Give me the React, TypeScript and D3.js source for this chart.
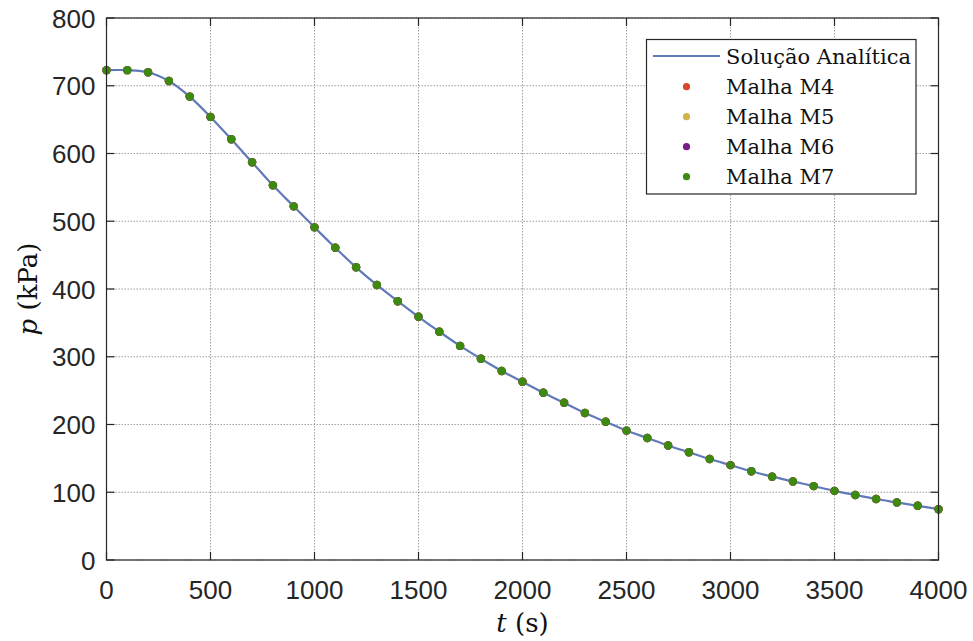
import React from 'react';
import * as d3 from 'd3';

// tempo (s) e pressão (kPa)
const tempos = [
  0, 100, 200, 300, 400, 500, 600, 700, 800, 900, 1000,
  1100, 1200, 1300, 1400, 1500, 1600, 1700, 1800, 1900, 2000,
  2100, 2200, 2300, 2400, 2500, 2600, 2700, 2800, 2900, 3000,
  3100, 3200, 3300, 3400, 3500, 3600, 3700, 3800, 3900, 4000,
];
const pressaoAnalitica = [
  723, 723, 720, 707, 684, 654, 621, 587, 553, 522, 491,
  461, 432, 406, 382, 359, 337, 316, 297, 279, 263,
  247, 232, 217, 204, 191, 180, 169, 159, 149, 140,
  131, 123, 116, 109, 102, 96, 90, 85, 80, 75,
];
const malhaM4 = pressaoAnalitica.slice();
const malhaM5 = pressaoAnalitica.slice();
const malhaM6 = pressaoAnalitica.slice();
const malhaM7 = pressaoAnalitica.slice();

const xTicks = [0, 500, 1000, 1500, 2000, 2500, 3000, 3500, 4000];
const yTicks = [0, 100, 200, 300, 400, 500, 600, 700, 800];

const series = [
  { name: 'Malha M4', values: malhaM4, color: '#d9472b' },
  { name: 'Malha M5', values: malhaM5, color: '#cfb44a' },
  { name: 'Malha M6', values: malhaM6, color: '#7b1a8a' },
  { name: 'Malha M7', values: malhaM7, color: '#3d8a10' },
];
const lineColor = '#6079b8';

const W = 973, H = 641;
const margin = { top: 18, right: 34.5, bottom: 81, left: 106.5 };

export default function App() {
  const iw = W - margin.left - margin.right;
  const ih = H - margin.top - margin.bottom;
  const x = d3.scaleLinear().domain([0, 4000]).range([0, iw]);
  const y = d3.scaleLinear().domain([0, 800]).range([ih, 0]);

  const line = d3.line<number>()
    .x((_, i) => x(tempos[i]))
    .y(d => y(d))
    .curve(d3.curveCatmullRom);

  const axisColor = '#262626';
  const tickFont = '"Liberation Sans", Arial, sans-serif';
  const serif = '"DejaVu Serif", serif';
  const tl = 8;

  const legend = { x: 646.5 - margin.left, y: 39.5 - margin.top, w: 269.5, h: 154.5 };

  return (
    <svg width={W} height={H} style={{ position: 'absolute', left: 0, top: 0, background: '#fff' }}>
      <g transform={`translate(${margin.left},${margin.top})`}>
        {/* grade */}
        {xTicks.map(t => (
          <line key={'gx' + t} x1={x(t)} x2={x(t)} y1={0} y2={ih}
            stroke="#6e6e6e" strokeWidth={1} strokeDasharray="1.5 1.5" opacity={0.65} />
        ))}
        {yTicks.map(t => (
          <line key={'gy' + t} x1={0} x2={iw} y1={y(t)} y2={y(t)}
            stroke="#6e6e6e" strokeWidth={1} strokeDasharray="1.5 1.5" opacity={0.65} />
        ))}

        {/* curva analítica */}
        <path d={line(pressaoAnalitica) || ''} fill="none" stroke={lineColor} strokeWidth={2.2} />

        {/* pontos das malhas */}
        {series.map(s => (
          <g key={s.name}>
            {s.values.map((v, i) => (
              <circle key={i} cx={x(tempos[i])} cy={y(v)} r={4.2} fill={s.color} />
            ))}
          </g>
        ))}

        {/* caixa e ticks */}
        <rect x={0} y={0} width={iw} height={ih} fill="none" stroke={axisColor} strokeWidth={1.2} />
        {xTicks.map(t => (
          <g key={'tx' + t}>
            <line x1={x(t)} x2={x(t)} y1={ih} y2={ih - tl} stroke={axisColor} strokeWidth={1.2} />
            <line x1={x(t)} x2={x(t)} y1={0} y2={tl} stroke={axisColor} strokeWidth={1.2} />
            <text x={x(t)} y={ih + 39} textAnchor="middle" fontFamily={tickFont} fontSize={26} fill={axisColor}>{t}</text>
          </g>
        ))}
        {yTicks.map(t => (
          <g key={'ty' + t}>
            <line x1={0} x2={tl} y1={y(t)} y2={y(t)} stroke={axisColor} strokeWidth={1.2} />
            <line x1={iw} x2={iw - tl} y1={y(t)} y2={y(t)} stroke={axisColor} strokeWidth={1.2} />
            <text x={-11} y={y(t) + 9.5} textAnchor="end" fontFamily={tickFont} fontSize={26} fill={axisColor}>{t}</text>
          </g>
        ))}

        {/* rótulos dos eixos */}
        <text x={iw / 2} y={ih + 72} textAnchor="middle" fontFamily={serif} fontSize={26} fill="#111">
          <tspan fontStyle="italic">t</tspan> (s)
        </text>
        <text transform={`translate(${-70},${ih / 2}) rotate(-90)`} textAnchor="middle" fontFamily={serif} fontSize={26} fill="#111">
          <tspan fontStyle="italic">p</tspan> (kPa)
        </text>

        {/* legenda */}
        <g transform={`translate(${legend.x},${legend.y})`}>
          <rect x={0} y={0} width={legend.w} height={legend.h} fill="#fff" stroke={axisColor} strokeWidth={1.2} />
          <line x1={6.5} x2={73.5} y1={16.5} y2={16.5} stroke={lineColor} strokeWidth={2.2} />
          <text x={79.5} y={24} fontFamily={serif} fontSize={21} fill="#111">Solução Analítica</text>
          {series.map((s, i) => (
            <g key={s.name} transform={`translate(0,${47.2 + i * 30})`}>
              <circle cx={40} cy={0} r={3.6} fill={s.color} />
              <text x={79.5} y={7.6} fontFamily={serif} fontSize={21} fill="#111">{s.name}</text>
            </g>
          ))}
        </g>
      </g>
    </svg>
  );
}
